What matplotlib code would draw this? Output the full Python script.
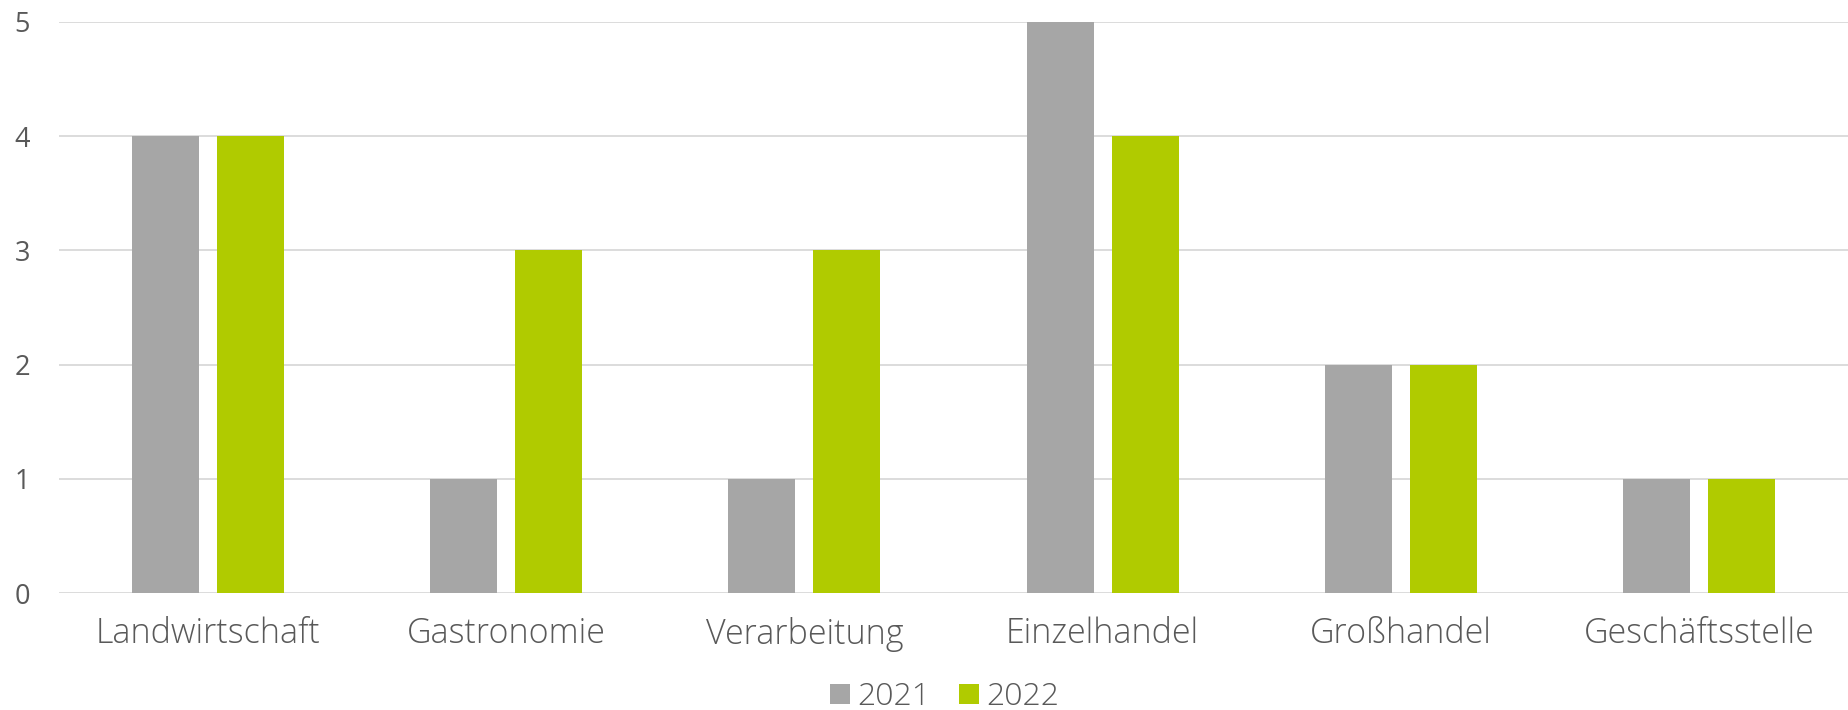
import numpy as np
import matplotlib
matplotlib.use("Agg")
import matplotlib.pyplot as plt

# data
categories = ["Landwirtschaft", "Gastronomie", "Verarbeitung", "Einzelhandel", "Großhandel", "Geschäftsstelle"]
values_2021 = [4, 1, 1, 5, 2, 1]
values_2022 = [4, 3, 3, 4, 2, 1]
series_names = ["2021", "2022"]
y_ticks = [0, 1, 2, 3, 4, 5]

grey = "#A6A6A6"
green = "#B0CB00"
text_col = "#595959"

fig = plt.figure(figsize=(18.48, 7.10), dpi=100)
ax = fig.add_axes([59 / 1848, 1 - 593 / 710, 1 - 59 / 1848, (593 - 22) / 710])

x = np.arange(len(categories))
w = 0.225
off = 0.1426
ax.bar(x - off, values_2021, width=w, color=grey, label=series_names[0], zorder=3)
ax.bar(x + off, values_2022, width=w, color=green, label=series_names[1], zorder=3)

ax.set_xlim(-0.5, len(categories) - 0.5)
ax.set_ylim(0, 5)
ax.set_yticks(y_ticks)
ax.set_xticks(x)
ax.set_xticklabels(categories, fontfamily="Open Sans", fontweight="light", fontsize=24.5, color=text_col)
ax.set_yticklabels([str(t) for t in y_ticks], fontfamily="Open Sans", fontsize=19.5, color=text_col)
ax.tick_params(axis="both", length=0)
ax.tick_params(axis="x", pad=17)
ax.tick_params(axis="y", pad=21)

ax.grid(axis="y", color="#D9D9D9", linewidth=1.3, zorder=0)
for s in ax.spines.values():
    s.set_visible(False)

fig.legend(loc="lower center", bbox_to_anchor=(945 / 1848, -0.045), ncol=2, frameon=False,
           handlelength=0.6, handleheight=0.6, handletextpad=0.25, columnspacing=0.9,
           prop={"family": "Open Sans", "weight": "light", "size": 23}, labelcolor=text_col)

fig.savefig("out.png", dpi=100)
